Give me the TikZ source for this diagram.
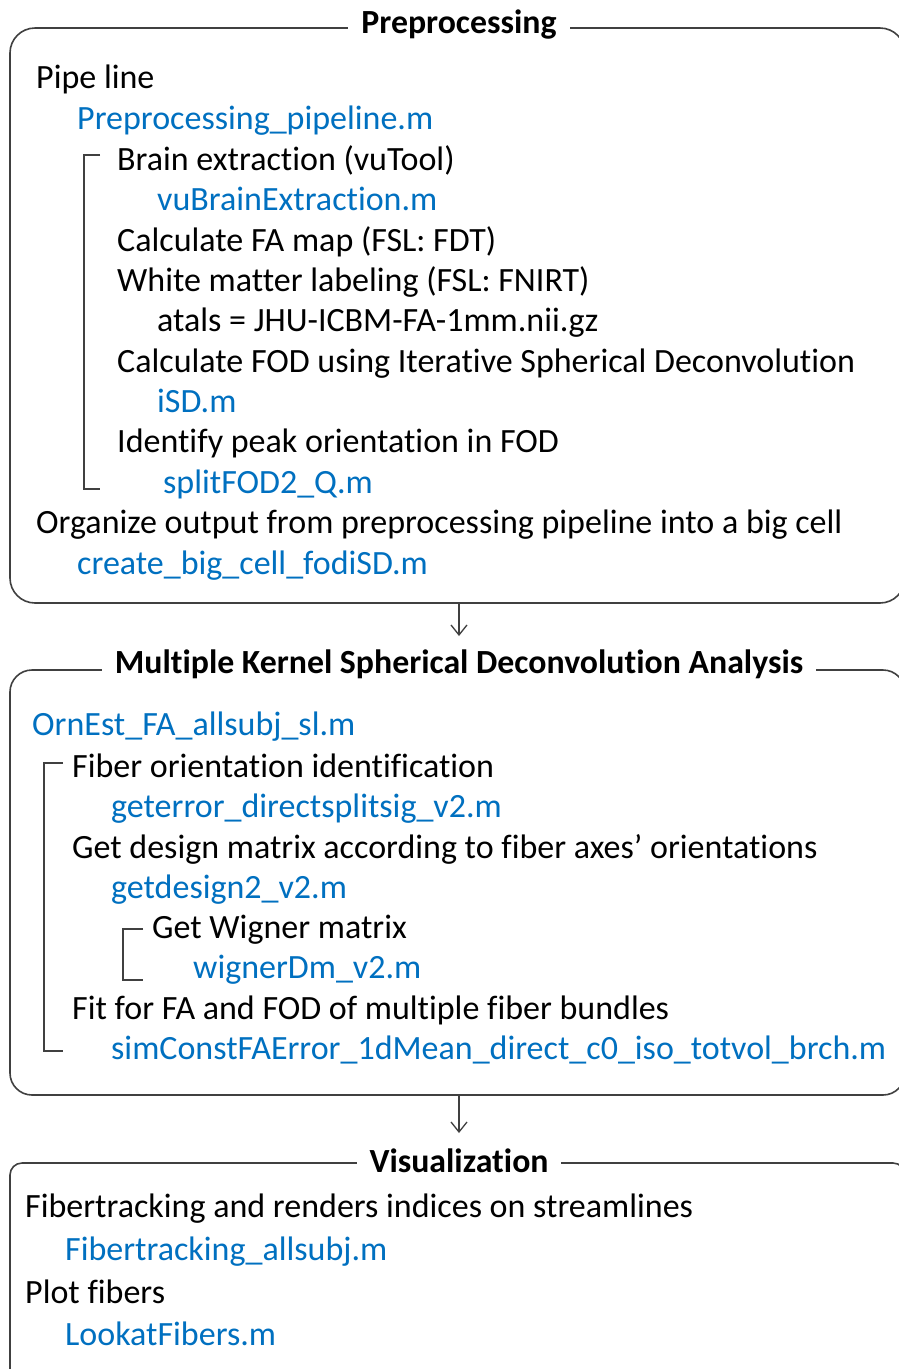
\documentclass[tikz,border=0pt]{standalone}
\usepackage{fontspec}
\setmainfont{Carlito}[Ligatures=NoCommon]
\usetikzlibrary{arrows.meta}
\definecolor{fblue}{HTML}{0070C0}
\definecolor{lgray}{HTML}{404040}
\begin{document}
\begin{tikzpicture}[x=1pt,y=-1pt,
  every node/.style={inner sep=0pt, font=\fontsize{34}{40}\selectfont},
  txt/.style={anchor=base west, text=black},
  code/.style={anchor=base west, text=fblue},
  ttl/.style={anchor=base, font=\fontsize{33.8}{40}\selectfont\bfseries, fill=white, inner xsep=13pt, inner ysep=4pt},
  boxs/.style={draw=lgray, line width=1.6pt, rectangle, minimum width=895pt},
  brk/.style={draw=lgray, line width=1.5pt},
  arr/.style={draw=lgray, line width=1.3pt, -{Straight Barb[length=10pt,width=16pt]}}]
\useasboundingbox (0,0) rectangle (899,1369);
\clip (0,0) rectangle (899,1369);
\fill[white] (0,0) rectangle (899,1369);

% ---------- Box 1 ----------
\node[boxs, rounded corners=25pt, minimum height=575pt] (box1) at (457.5,315.5) {};
\node[ttl] (t1) at (459,33) {Preprocessing};
\node[txt]  (p1)  at (36,88)  {Pipe line};
\node[code] (p2)  at (77,129) {Preprocessing\_pipeline.m};
\node[txt]  (p3)  at (117,170) {Brain extraction (vuTool)};
\node[code] (p4)  at (157,210) {vuBrainExtraction.m};
\node[txt]  (p5)  at (117,251) {Calculate FA map (FSL: FDT)};
\node[txt]  (p6)  at (117,291) {White matter labeling (FSL: FNIRT)};
\node[txt]  (p7)  at (157,331) {atals = JHU-ICBM-FA-1mm.nii.gz};
\node[txt]  (p8)  at (117,372) {Calculate FOD using Iterative Spherical Deconvolution};
\node[code] (p9)  at (157,412) {iSD.m};
\node[txt]  (p10) at (117,452) {Identify peak orientation in FOD};
\node[code] (p11) at (163,493) {splitFOD2\_Q.m};
\node[txt]  (p12) at (36,533) {Organize output from preprocessing pipeline into a big cell};
\node[code] (p13) at (77,574) {create\_big\_cell\_fodiSD.m};
\draw[brk] (100,155) -| (84,489) -- (100,489);

% ---------- Box 2 ----------
\node[boxs, rounded corners=22pt, minimum height=425pt] (box2) at (457.5,882.5) {};
\node[ttl] (t2) at (459,673) {Multiple Kernel Spherical Deconvolution Analysis};
\node[code] (m1) at (32,735)  {OrnEst\_FA\_allsubj\_sl.m};
\node[txt]  (m2) at (72,777)  {Fiber orientation identification};
\node[code] (m3) at (111,817) {geterror\_directsplitsig\_v2.m};
\node[txt]  (m4) at (72,858)  {Get design matrix according to fiber axes’ orientations};
\node[code] (m5) at (111,898) {getdesign2\_v2.m};
\node[txt]  (m6) at (152,938) {Get Wigner matrix};
\node[code] (m7) at (193,978) {wignerDm\_v2.m};
\node[txt]  (m8) at (72,1019) {Fit for FA and FOD of multiple fiber bundles};
\node[code] (m9) at (111,1059) {simConstFAError\_1dMean\_direct\_c0\_iso\_totvol\_brch.m};
\draw[brk] (63,763) -| (44,1051) -- (63,1051);
\draw[brk] (143,929) -| (123,980) -- (143,980);

% ---------- Box 3 ----------
\node[boxs, rounded corners=12pt, minimum height=227pt] (box3) at (457.5,1276.5) {};
\node[ttl] (t3) at (459,1172) {Visualization};
\node[txt]  (v1) at (25,1217) {Fibertracking and renders indices on streamlines};
\node[code] (v2) at (65,1260) {Fibertracking\_allsubj.m};
\node[txt]  (v3) at (25,1303) {Plot fibers};
\node[code] (v4) at (65,1345) {LookatFibers.m};

% ---------- Connectors ----------
\coordinate (a1) at (459,636);
\coordinate (a2) at (459,1133);
\draw[arr] (box1.south -| a1) -- (a1);
\draw[arr] (box2.south -| a2) -- (a2);
\end{tikzpicture}
\end{document}
